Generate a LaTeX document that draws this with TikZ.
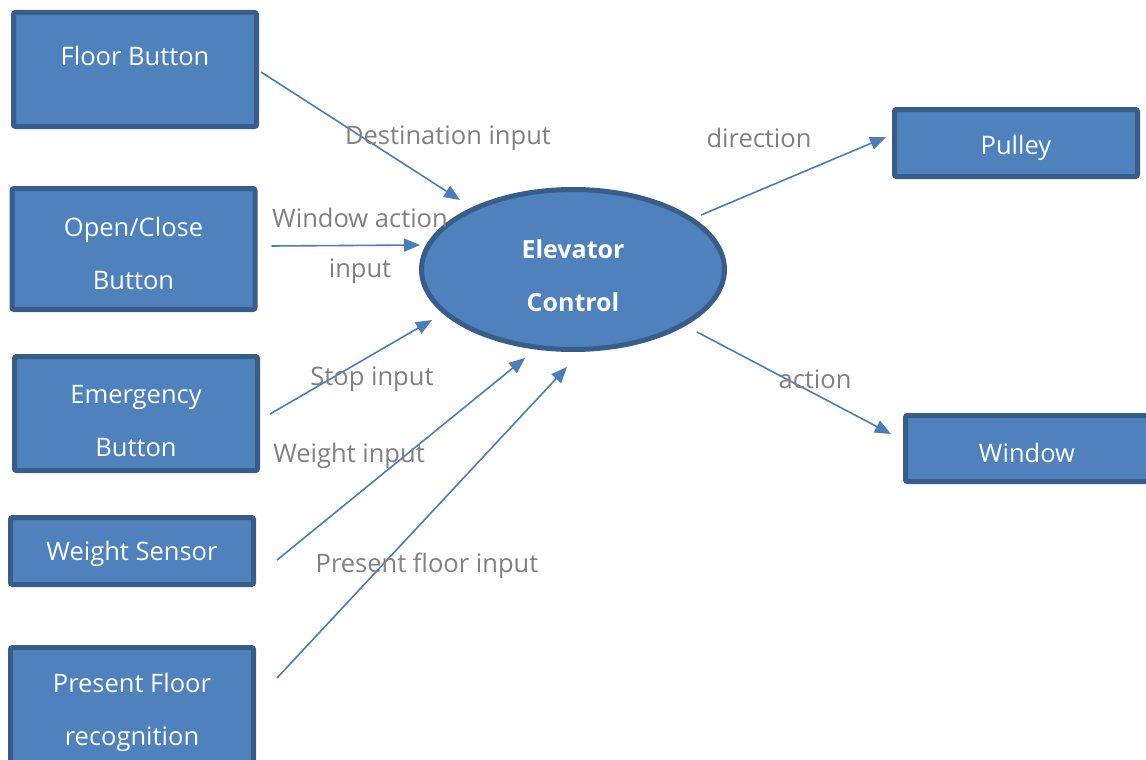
\documentclass[tikz,border=0pt]{standalone}
\usepackage{fontspec}
\setmainfont{Open Sans}
\usetikzlibrary{arrows.meta,shapes.geometric}

\definecolor{boxfill}{HTML}{4F81BD}
\definecolor{boxline}{HTML}{385D8A}
\definecolor{flowc}{HTML}{4A7EBB}
\definecolor{labelc}{HTML}{808080}

\tikzset{
  unit/.style={rectangle, draw=boxline, fill=boxfill, line width=5pt,
    rounded corners=2pt, inner sep=0pt, minimum width=243pt},
  unittext/.style={text=white, font=\fontsize{25.5}{53}\selectfont, align=center, inner sep=0pt},
  flow/.style={draw=flowc, line width=1.6pt, -{Triangle[length=16pt,width=13pt]}},
  flowlabel/.style={text=labelc, font=\fontsize{25.5}{53}\selectfont, align=center, inner sep=0pt},
}

\begin{document}
\begin{tikzpicture}[x=1pt,y=-1pt]
\useasboundingbox (0,0) rectangle (1146,760);
\clip (0,0) rectangle (1146,760);

% external units on the left
\node[unit, minimum height=114pt] (fb) at (135,69.5) {};
\node[unit, minimum height=121pt] (ocb) at (133.5,249) {};
\node[unit, minimum height=114pt] (emb) at (136,413.5) {};
\node[unit, minimum height=67pt]  (ws) at (132,551) {};
\node[unit, minimum height=120pt] (pfr) at (132,707.5) {};

% actuators on the right
\node[unit, minimum height=67pt] (pul) at (1016,143) {};
\node[unit, minimum height=66pt] (win) at (1027,448.5) {};

% central process
\node[ellipse, draw=boxline, fill=boxfill, line width=5pt, inner sep=0pt,
      minimum width=303pt, minimum height=160pt] (ec) at (573,269.5) {};

% unit captions
\node[unittext] (fbt) at (135,56) {Floor Button};
\node[unittext] (ocbt) at (133.5,253) {Open/Close\\Button};
\node[unittext] (embt) at (136,421) {Emergency\\Button};
\node[unittext] (wst) at (132,554) {Weight Sensor};
\node[unittext] (pfrt) at (132,712) {Present Floor\\recognition};
\node[unittext] (pult) at (1016,148) {Pulley};
\node[unittext] (wint) at (1027,453) {Window};
\node[text=white, font=\fontsize{25}{53}\selectfont\bfseries, align=center, inner sep=0pt]
  (ect) at (573,276) {Elevator\\Control};

% arrow end points near the process
\coordinate (in1) at (460,200);
\coordinate (in2) at (420,245);
\coordinate (in3) at (432,320);
\coordinate (in4) at (525,358);
\coordinate (in5) at (567,367);
\coordinate (out1) at (886,137);
\coordinate (out2) at (891,434);

% data flows
\draw[flow] ([xshift=2pt,yshift=-2.5pt]fb.east) -- (in1);
\draw[flow] ([xshift=14pt,yshift=3pt]ocb.east) -- (in2);
\draw[flow] ([xshift=10pt,yshift=-0.5pt]emb.east) -- (in3);
\draw[flow] ([xshift=21pt,yshift=-9pt]ws.east) -- (in4);
\draw[flow] ([xshift=21pt,yshift=29.5pt]pfr.east) -- (in5);
\draw[flow] ([xshift=-26pt,yshift=54.5pt]ec.east) -- (out1);
\draw[flow] ([xshift=-30pt,yshift=-62.5pt]ec.east) -- (out2);

% flow labels
\node[flowlabel] (l1) at (448,138) {Destination input};
\node[flowlabel] (l2a) at (360,218) {Window action};
\node[flowlabel] (l2b) at (360,271) {input};
\node[flowlabel] (l3) at (759,138) {direction};
\node[flowlabel] (l4) at (372,379) {Stop input};
\node[flowlabel] (l5) at (815,379) {action};
\node[flowlabel] (l6) at (349,456) {Weight input};
\node[flowlabel] (l7) at (427,566) {Present floor input};
\end{tikzpicture}
\end{document}
